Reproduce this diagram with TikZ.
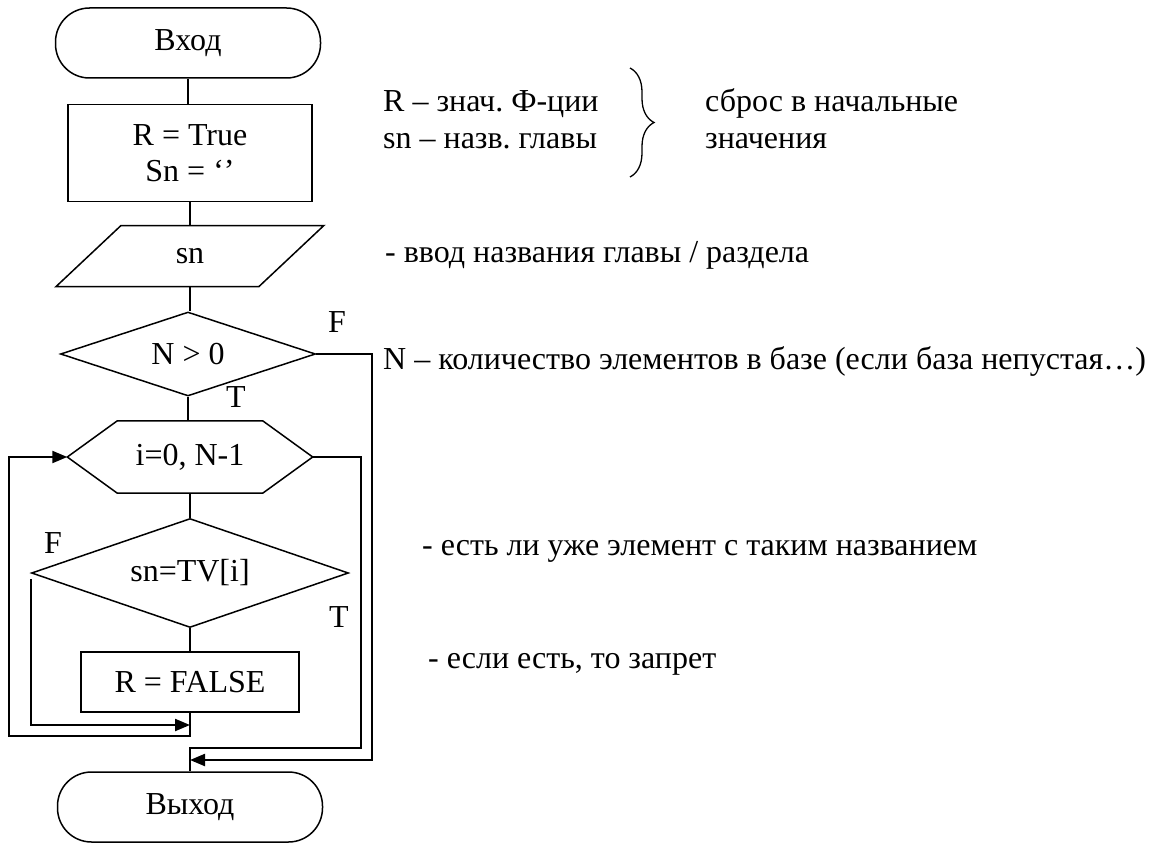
\documentclass[tikz,border=0pt]{standalone}
\usepackage{fontspec}
\setmainfont{Liberation Serif}
\usetikzlibrary{shapes.geometric,arrows.meta,decorations.pathreplacing}
\frenchspacing
\begin{document}
\begin{tikzpicture}[x=1pt,y=-1pt,
  every node/.style={font=\fontsize{32}{38}\selectfont, inner sep=0pt},
  ln/.style={line width=1.5pt},
  arr/.style={line width=2.2pt, -{Triangle[length=15pt,width=12pt]}},
  terminal/.style={draw, ln, rounded corners=34pt, minimum width=265pt, minimum height=70pt},
  proc/.style={draw, ln, rectangle},
  io/.style={draw, ln, trapezium, trapezium left angle=49, trapezium right angle=131,
    trapezium stretches=true, minimum width=268pt, minimum height=61pt},
  decision/.style={draw, ln, diamond, shape aspect=3},
  loopbox/.style={rectangle, minimum width=245pt, minimum height=72pt},
  note/.style={anchor=base west},
  flag/.style={}]
\useasboundingbox (0,0) rectangle (1154,843);

% flowchart blocks
\node[terminal] (start) at (188,43) {Вход};
\node[proc, minimum width=244pt, minimum height=97pt, align=center] (init) at (190,153)
  {R = True\\[-2pt]Sn = ‘’};
\node[io] (input) at (190,256) {sn};
\node[decision, minimum width=255pt, minimum height=84pt] (d1) at (188,354) {N > 0};
\node[loopbox] (hex) at (190,457) {i=0, N-1};
\draw[ln] (hex.west) -- ([xshift=50pt]hex.north west) -- ([xshift=-50pt]hex.north east)
  -- (hex.east) -- ([xshift=-50pt]hex.south east) -- ([xshift=50pt]hex.south west) -- cycle;
\node[decision, minimum width=317pt, minimum height=109pt] (d2) at (190,573) {sn=TV[i]};
\node[proc, minimum width=218pt, minimum height=60pt] (r2) at (190,682) {R = FALSE};
\node[terminal] (stop) at (190,807) {Выход};

% branch labels
\node[flag] (f1) at (337,322) {F};
\node[flag] (t1) at (236,397) {T};
\node[flag] (f2) at (53,543) {F};
\node[flag] (t2) at (339,617) {T};

% bend points of the connectors
\coordinate (fjoin) at (190,725);
\coordinate (back) at (9,736);
\coordinate (hexout) at (361,748);
\coordinate (merge1) at (190,748);
\coordinate (d1out) at (372,760);
\coordinate (merge2) at (190,760);

% connectors
\draw[ln] (start.south) -- (start.south |- init.north);
\draw[ln] (init) -- (input);
\draw[ln] (input.south) -- (input.south |- d1.north);
\draw[ln] (d1.south) -- (d1.south |- hex.north);
\draw[ln] (hex) -- (d2);
\draw[ln] (d2) -- (r2);
\draw[arr] ([yshift=-6pt]d2.west) |- (fjoin);
\draw[arr] (r2.south) |- (back) |- (hex.west);
\draw[ln] (hex.east) -| (hexout) -- (merge1) -- (stop.north);
\draw[arr] (d1.east) -| (d1out) -- (merge2);

% comments on the right
\node[note] (c1) at (383,111) {R – знач. Ф-ции};
\node[note] (c2) at (383,148) {sn – назв. главы};
\draw[line width=1.3pt, decorate, decoration={brace, amplitude=24pt}] (630,68) -- (630,177);
\node[note] (c3) at (705,111) {сброс в начальные};
\node[note] (c4) at (705,148) {значения};
\node[note] (c5) at (385,262) {- ввод названия главы / раздела};
\node[note] (c6) at (383,369) {N – количество элементов в базе (если база непустая…)};
\node[note] (c7) at (422,555) {- есть ли уже элемент с таким названием};
\node[note] (c8) at (428,668) {- если есть, то запрет};
\end{tikzpicture}
\end{document}
